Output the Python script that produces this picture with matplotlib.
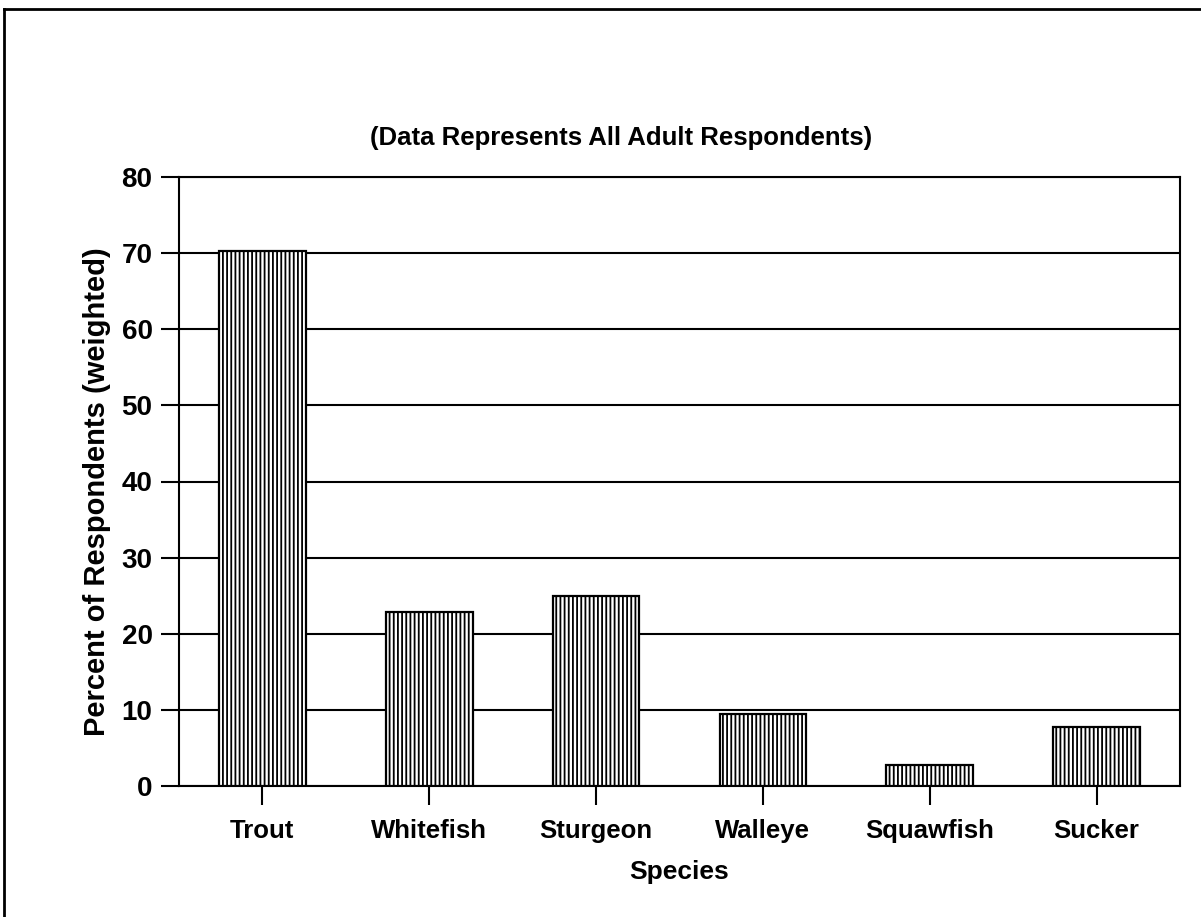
import matplotlib
matplotlib.use("Agg")
import matplotlib.pyplot as plt
from matplotlib.lines import Line2D
import numpy as np

categories = ["Trout", "Whitefish", "Sturgeon", "Walleye", "Squawfish", "Sucker"]
percent = [70.3, 22.9, 25.0, 9.5, 2.8, 7.7]
yticks = [0, 10, 20, 30, 40, 50, 60, 70, 80]
title = "(Data Represents All Adult Respondents)"
xlabel = "Species"
ylabel = "Percent of Respondents (weighted)"

plt.rcParams['font.family'] = ['Liberation Sans', 'DejaVu Sans']
plt.rcParams['font.weight'] = 'bold'
plt.rcParams['hatch.linewidth'] = 1.3
plt.rcParams['hatch.color'] = 'black'

fig = plt.figure(figsize=(12.01, 9.17), dpi=100)
ax = fig.add_axes([179/1201, 1-786/917, (1180-179)/1201, (786-177)/917])

x = np.arange(len(categories))
ax.bar(x, percent, width=0.52, color='white', edgecolor='black',
       linewidth=1.6, hatch='||||', zorder=3)

ax.set_xlim(-0.5, len(categories)-0.5)
ax.set_ylim(0, 80)
ax.set_yticks(yticks)
ax.set_yticklabels([str(v) for v in yticks], fontsize=20, fontweight='bold')
ax.set_xticks(x)
ax.set_xticklabels(categories, fontsize=18.5, fontweight='bold')
ax.yaxis.grid(True, color='black', linewidth=1.5, zorder=1)
ax.set_axisbelow(True)
ax.tick_params(axis='y', length=13, width=1.5, pad=6, direction='out')
ax.tick_params(axis='x', length=14, width=1.5, pad=10, direction='out')
for s in ax.spines.values():
    s.set_linewidth(1.5)

ax.set_xlabel(xlabel, fontsize=19, fontweight='bold', labelpad=12)
ax.set_ylabel(ylabel, fontsize=21, fontweight='bold')
ax.yaxis.set_label_coords((111-179)/(1180-179), (786-492)/(786-177))

fig.text(621/1201, 1-138/917, title, fontsize=18.5, fontweight='bold', ha='center', va='center')

# outer frame (top and left edges visible)
fig.add_artist(Line2D([4/1201, 1.0], [1-9/917, 1-9/917], color='black', linewidth=2, transform=fig.transFigure))
fig.add_artist(Line2D([4/1201, 4/1201], [0.0, 1-9/917], color='black', linewidth=2, transform=fig.transFigure))

fig.savefig("out.png", dpi=100)
